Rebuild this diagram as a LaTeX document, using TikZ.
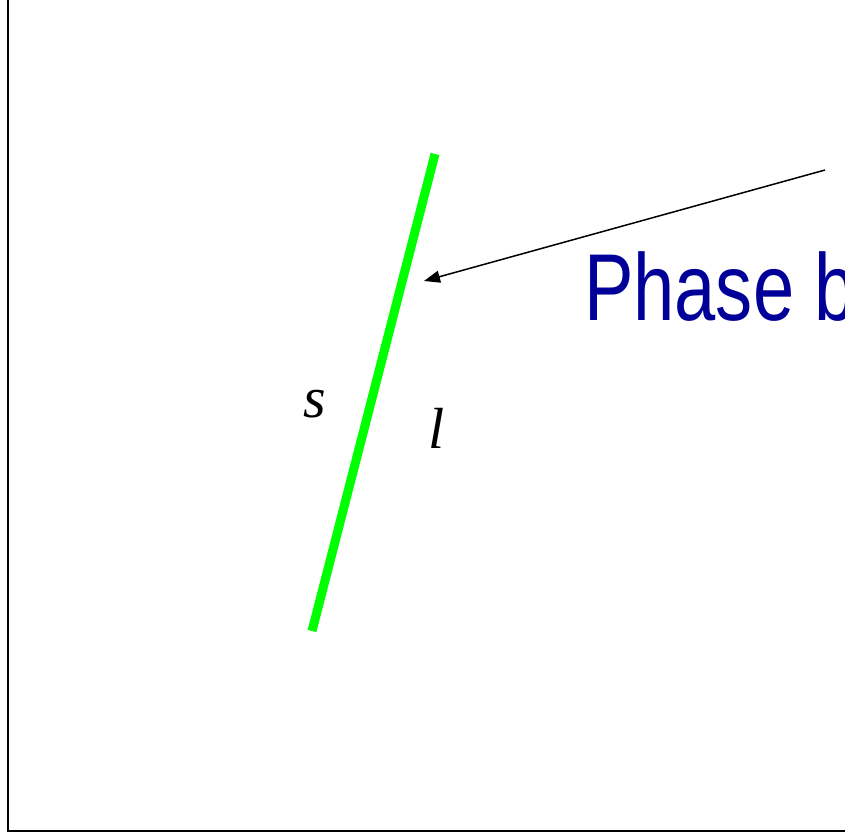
\documentclass[tikz,border=0pt]{standalone}
\usepackage{fontspec}
\setmainfont{Liberation Serif}
\newfontfamily\labelsans{Liberation Sans}
\usetikzlibrary{arrows.meta}
\definecolor{phaseblue}{RGB}{0,0,153}
\definecolor{pgreen}{RGB}{0,255,0}
\tikzset{
  axisline/.style={line width=2pt, black},
  boundary/.style={line width=9pt, pgreen},
  pointer/.style={line width=1.5pt, black, -{Triangle[length=16pt,width=12pt]}},
  varlabel/.style={font=\fontsize{58}{60}\selectfont\itshape, inner sep=0pt},
  titlelabel/.style={font=\labelsans\fontsize{95}{100}\selectfont, text=phaseblue, inner sep=0pt, anchor=base west, xscale=0.78}
}
\begin{document}
\begin{tikzpicture}[x=1pt,y=-1pt]
\useasboundingbox (0,0) rectangle (845,833);
\clip (0,0) rectangle (845,833);
\coordinate (ytop) at (7.5,0);
\coordinate (origin) at (7.5,831);
\coordinate (xend) at (845,831);
\draw[axisline] (ytop) -- (origin) -- (xend);
\coordinate (gbot) at (312,631);
\coordinate (gtop) at (435,154);
\draw[boundary] (gbot) -- (gtop);
\coordinate (astart) at (825,170);
\coordinate (atip) at (424,281);
\draw[pointer] (astart) -- (atip);
\node[titlelabel] (title) at (584,320) {Phase b};
\node[varlabel] (s) at (315,404) {s};
\node[varlabel] (l) at (437,428) {l};
\end{tikzpicture}
\end{document}
